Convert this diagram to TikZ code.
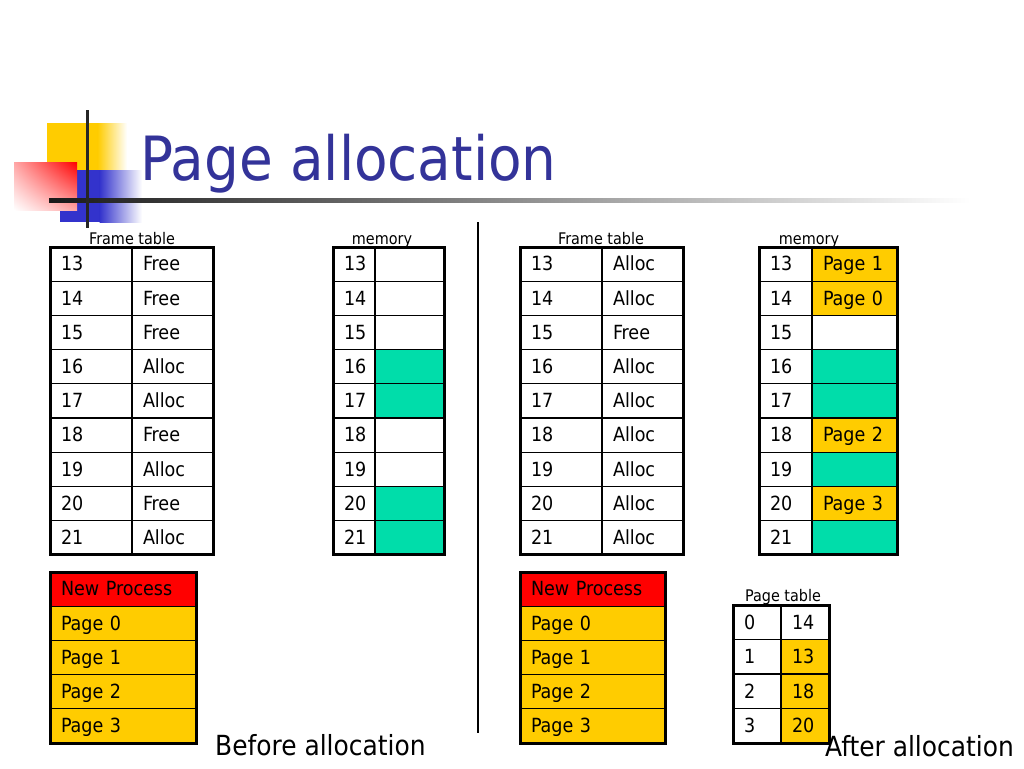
\documentclass[tikz,border=0pt]{standalone}
\usepackage{fontspec}
\usepackage{tikz}
\usepackage{xcolor}
\usetikzlibrary{positioning,shadings}
\setmainfont{DejaVu Sans Condensed}

\definecolor{titleblue}{RGB}{51,51,153}
\definecolor{pageyellow}{RGB}{255,204,0}
\definecolor{usedgreen}{RGB}{0,221,170}
\definecolor{procred}{RGB}{255,0,0}
\definecolor{logoblue}{RGB}{51,51,204}

\newcommand{\cellfont}{\fontsize{19.5}{22}\selectfont}
\newcommand{\capfont}{\fontsize{16}{18}\selectfont}

\begin{document}
\begin{tikzpicture}[x=1pt,y=-1pt,
  cell/.style={draw, line width=1.3pt, anchor=north west, outer sep=0pt,
    inner xsep=11pt, inner ysep=0pt, minimum height=34.2pt, align=left,
    font=\cellfont, text height=14pt, text depth=0.5pt},
  frame/.style={line width=3pt},
  caption/.style={font=\capfont, inner sep=0pt, anchor=base},
  bigcaption/.style={font=\fontsize{27.7}{31}\selectfont, inner sep=0pt, anchor=base west}]
\useasboundingbox (0,0) rectangle (1024,768);
% logo
\fill [pageyellow] (47,123) rectangle (98,172);
\shade [left color=pageyellow, right color=white] (97.5,123) rectangle (127,172);
\fill [logoblue] (60,170) rectangle (100,222);
\shade [left color=logoblue, right color=white] (99.5,170) rectangle (142,222);
\shade [upper right=procred, upper left=procred!35!white, lower right=procred!35!white,
  lower left=white] (14,162) rectangle (77,210);
\shade [left color=black!90, middle color=black!45, right color=white] (49,198) rectangle (970,202);
\draw [line width=3pt, black!85] (87,110) -- (87,228);
\node [font=\fontsize{61}{66}\selectfont, text=titleblue, anchor=base west, inner sep=0pt]
  (title) at (140,180) {Page allocation};
% divider
\coordinate (divtop) at (478,222);
\coordinate (divbot) at (478,733);
\draw [line width=2.5pt] (divtop) -- (divbot);
% before: frame table
\node [caption] (ftcapa) at (132,244) {Frame table};
\foreach \n/\s [count=\i from 0] in {13/Free,14/Free,15/Free,16/Alloc,17/Alloc,18/Free,19/Alloc,20/Free,21/Alloc} {
  \node [cell, text width=60pt] (fa\n) at (50,{247+34.2*\i}) {\n};
  \node [cell, text width=59pt, right=0pt of fa\n] (fb\n) {\s};
}
\draw [frame] (fa13.north west) rectangle (fb21.south east);
% before: memory
\node [caption] (memcapa) at (382,244) {memory};
\foreach \n/\c [count=\i from 0] in {13/white,14/white,15/white,16/usedgreen,17/usedgreen,18/white,19/white,20/usedgreen,21/usedgreen} {
  \node [cell, text width=20pt] (ma\n) at (333,{247+34.2*\i}) {\n};
  \node [cell, text width=47pt, fill=\c, right=0pt of ma\n] (mb\n) {};
}
\draw [frame] (ma13.north west) rectangle (mb21.south east);
% before: new process
\foreach \s/\c [count=\i from 0] in {New Process/procred,Page 0/pageyellow,Page 1/pageyellow,Page 2/pageyellow,Page 3/pageyellow} {
  \node [cell, text width=124pt, fill=\c] (pa\i) at (50,{572+34.2*\i}) {\s};
}
\draw [frame] (pa0.north west) rectangle (pa4.south east);
\node [bigcaption] (before) at (215,755) {Before allocation};
% after: frame table
\node [caption] (ftcapb) at (601,244) {Frame table};
\foreach \n/\s [count=\i from 0] in {13/Alloc,14/Alloc,15/Free,16/Alloc,17/Alloc,18/Alloc,19/Alloc,20/Alloc,21/Alloc} {
  \node [cell, text width=60pt] (fc\n) at (520,{247+34.2*\i}) {\n};
  \node [cell, text width=59pt, right=0pt of fc\n] (fd\n) {\s};
}
\draw [frame] (fc13.north west) rectangle (fd21.south east);
% after: memory
\node [caption] (memcapb) at (809,244) {memory};
\foreach \n/\c/\s [count=\i from 0] in {13/pageyellow/Page 1,14/pageyellow/Page 0,15/white/,16/usedgreen/,17/usedgreen/,18/pageyellow/Page 2,19/usedgreen/,20/pageyellow/Page 3,21/usedgreen/} {
  \node [cell, text width=31pt] (mc\n) at (759,{247+34.2*\i}) {\n};
  \node [cell, text width=63pt, fill=\c, right=0pt of mc\n] (md\n) {\s};
}
\draw [frame] (mc13.north west) rectangle (md21.south east);
% after: new process
\foreach \s/\c [count=\i from 0] in {New Process/procred,Page 0/pageyellow,Page 1/pageyellow,Page 2/pageyellow,Page 3/pageyellow} {
  \node [cell, text width=123pt, fill=\c] (pb\i) at (520,{572+34.2*\i}) {\s};
}
\draw [frame] (pb0.north west) rectangle (pb4.south east);
% after: page table
\node [caption] (ptcap) at (783,601) {Page table};
\foreach \p/\f/\c in {0/14/white,1/13/pageyellow,2/18/pageyellow,3/20/pageyellow} {
  \node [cell, text width=26pt, minimum height=34.5pt] (pt\p) at (733,{605+34.5*\p}) {\p};
  \node [cell, text width=26pt, minimum height=34.5pt, fill=\c, right=0pt of pt\p] (pf\p) {\f};
}
\draw [frame] (pt0.north west) rectangle (pf3.south east);
\node [bigcaption] (after) at (825,756) {After allocation};
\end{tikzpicture}
\end{document}
